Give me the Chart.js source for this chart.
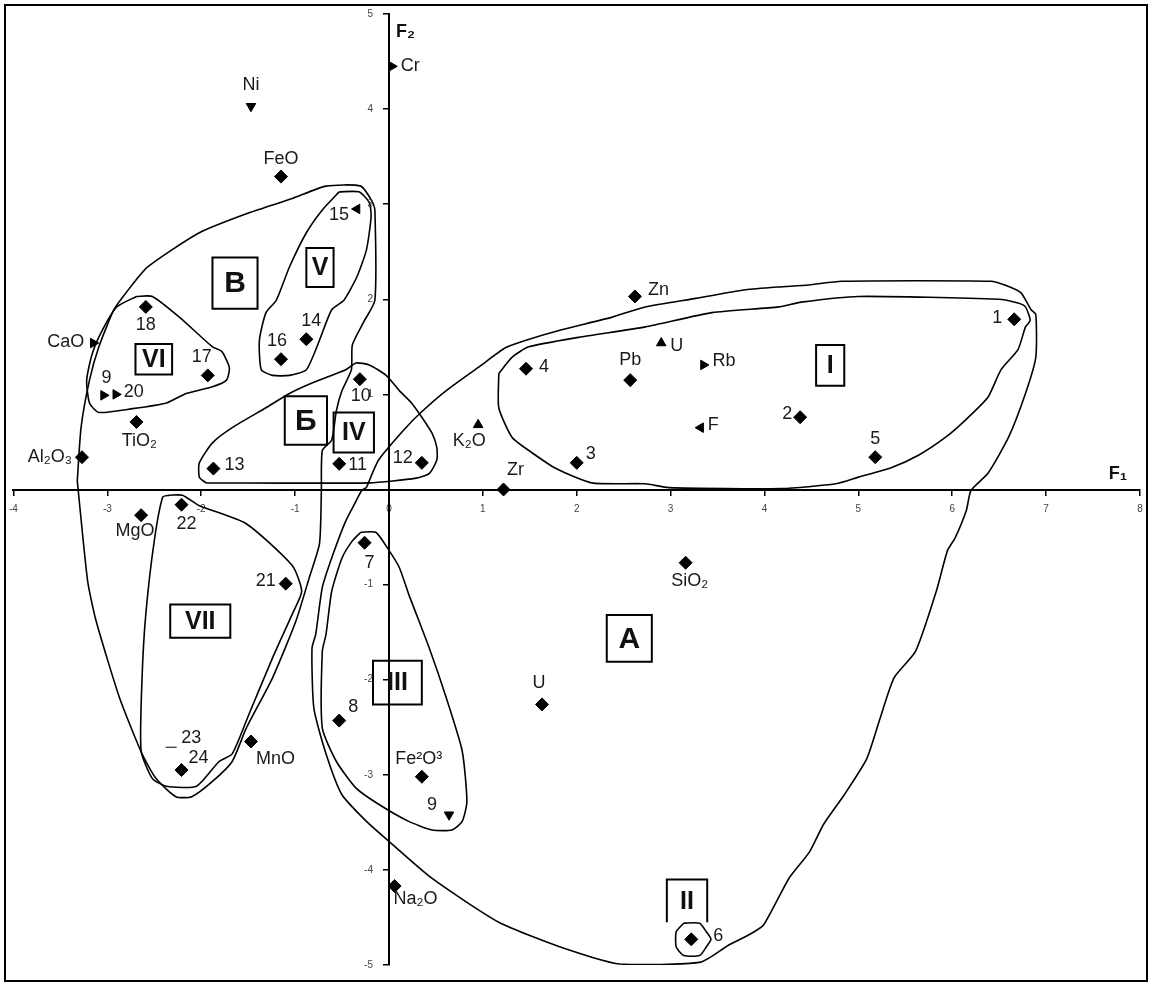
<!DOCTYPE html>
<html>
<head>
<meta charset="utf-8">
<script src="https://cdn.jsdelivr.net/npm/chart.js@4.4.0/dist/chart.umd.min.js"></script>
<style>
  html, body { margin: 0; padding: 0; background: #fff; }
</style>
</head>
<body>
<canvas id="myScatterChart" width="1152" height="986"></canvas>
<script>
// numbered samples
const sampleNames = ['1','2','3','4','5','6','7','8','9','10','11','12','13','14','15','16','17','18','9','20','21','22','23','24']
const sampleF1 = [6.66, 4.38, 2.00, 1.46, 5.18, 3.22, -0.26, -0.53, 0.64, -0.31, -0.53, 0.35, -1.87, -0.88, -0.34, -1.15, -1.93, -2.59, -3.04, -2.91, -1.10, -2.21, -2.32, -2.21]
const sampleF2 = [1.79, 0.76, 0.28, 1.27, 0.34, -4.73, -0.56, -2.43, -3.42, 1.16, 0.27, 0.28, 0.22, 1.58, 2.95, 1.37, 1.20, 1.92, 0.99, 1.00, -0.99, -0.16, -2.71, -2.95]

// components (oxides, elements)
const compNames = ['Cr','Ni','FeO','CaO','TiO₂','Al₂O₃','K₂O','Zr','Zn','Pb','U','Rb','F','MgO','MnO','Fe²O³','Na₂O','U','SiO₂']
const compF1 = [0.03, -1.47, -1.15, -3.15, -2.69, -3.27, 0.95, 1.22, 2.62, 2.57, 2.90, 3.35, 3.32, -2.64, -1.47, 0.35, 0.06, 1.63, 3.16]
const compF2 = [4.45, 4.03, 3.29, 1.54, 0.71, 0.34, 0.68, 0.00, 2.03, 1.15, 1.54, 1.31, 0.65, -0.27, -2.65, -3.02, -4.17, -2.26, -0.77]

// axis ticks
const xTicks = [-4,-3,-2,-1,0,1,2,3,4,5,6,7,8]
const yTicks = [-5,-4,-3,-2,-1,0,1,2,3,4,5]

// group outlines (F1, F2)
const regionA = [[-0.24,0.02],[-0.11,0.31],[0.18,0.65],[0.34,0.81],[0.61,1.04],[0.96,1.29],[1.24,1.49],[1.46,1.57],[1.84,1.68],[2.37,1.81],[2.73,1.92],[3.27,2.01],[3.80,2.10],[4.15,2.13],[4.47,2.15],[4.82,2.19],[6.41,2.19],[6.56,2.15],[6.73,2.07],[6.84,1.89],[6.89,1.84],[6.89,1.39],[6.78,1.01],[6.60,0.55],[6.38,0.17],[6.20,-0.01],[6.15,-0.22],[6.03,-0.51],[5.95,-0.64],[5.83,-1.07],[5.61,-1.70],[5.38,-1.98],[5.23,-2.41],[5.09,-2.83],[4.85,-3.21],[4.63,-3.52],[4.48,-3.81],[4.26,-4.09],[3.99,-4.58],[3.84,-4.68],[3.62,-4.79],[3.32,-4.97],[2.46,-4.99],[1.88,-4.83],[1.17,-4.55],[0.46,-4.09],[0.00,-3.70],[-0.24,-3.49],[-0.50,-3.21],[-0.67,-2.78],[-0.80,-2.30],[-0.82,-1.67],[-0.78,-1.52],[-0.71,-1.03],[-0.61,-0.72],[-0.46,-0.33],[-0.35,-0.12],[-0.29,-0.01],[-0.24,0.02]]
const regionI = [[1.17,1.22],[1.17,0.86],[1.31,0.55],[1.49,0.41],[1.78,0.22],[2.16,0.07],[2.73,0.06],[2.98,0.02],[4.18,0.01],[4.76,0.06],[5.00,0.13],[5.35,0.23],[5.64,0.36],[5.93,0.55],[6.14,0.73],[6.38,0.97],[6.52,1.26],[6.70,1.47],[6.78,1.71],[6.83,1.78],[6.78,1.92],[6.70,1.96],[6.49,2.00],[5.00,2.03],[4.39,1.97],[4.15,1.92],[3.44,1.86],[2.73,1.71],[2.02,1.60],[1.49,1.50],[1.31,1.39],[1.17,1.22]]
const regionV_ = [[-3.32,0.09],[-3.28,0.65],[-3.19,1.15],[-3.09,1.50],[-2.93,1.89],[-2.80,2.07],[-2.57,2.34],[-2.02,2.70],[-1.49,2.91],[-1.03,3.06],[-0.67,3.19],[-0.30,3.19],[-0.18,3.03],[-0.15,2.94],[-0.15,1.99],[-0.27,1.76],[-0.39,1.52],[-0.40,1.26],[-0.50,1.04],[-0.56,0.83],[-0.61,0.52],[-0.71,0.41],[-0.72,-0.01],[-0.74,-0.57],[-0.85,-0.93],[-0.99,-1.38],[-1.24,-1.98],[-1.52,-2.51],[-1.67,-2.86],[-1.88,-3.07],[-2.10,-3.23],[-2.27,-3.23],[-2.48,-3.04],[-2.63,-2.78],[-2.87,-2.19],[-3.12,-1.38],[-3.21,-0.96],[-3.32,0.09]]
const regionV = [[-0.53,3.13],[-0.32,3.13],[-0.21,3.02],[-0.19,2.87],[-0.24,2.52],[-0.34,2.24],[-0.48,1.99],[-0.61,1.89],[-0.74,1.57],[-0.88,1.26],[-1.06,1.20],[-1.24,1.20],[-1.36,1.26],[-1.38,1.57],[-1.31,1.86],[-1.20,1.99],[-1.06,2.34],[-0.88,2.70],[-0.71,2.94],[-0.53,3.13]]
const regionVI = [[-2.69,2.03],[-2.52,2.03],[-2.23,1.81],[-1.88,1.50],[-1.78,1.45],[-1.70,1.28],[-1.73,1.15],[-1.88,1.08],[-2.16,1.01],[-2.37,0.91],[-2.73,0.85],[-3.09,0.81],[-3.19,0.91],[-3.22,1.15],[-3.16,1.43],[-3.05,1.68],[-2.90,1.92],[-2.69,2.03]]
const regionBe = [[-1.95,0.07],[-2.02,0.13],[-2.02,0.28],[-1.88,0.49],[-1.67,0.65],[-1.31,0.86],[-1.06,1.01],[-0.82,1.12],[-0.46,1.26],[-0.35,1.33],[-0.21,1.31],[-0.03,1.20],[0.11,1.04],[0.24,0.91],[0.35,0.76],[0.46,0.59],[0.51,0.44],[0.51,0.31],[0.43,0.17],[0.29,0.12],[-0.21,0.07],[-1.95,0.07]]
const regionVII = [[-2.34,-0.06],[-2.20,-0.06],[-2.02,-0.17],[-1.52,-0.36],[-1.03,-0.80],[-0.93,-1.07],[-1.03,-1.31],[-1.24,-1.77],[-1.49,-2.36],[-1.67,-2.78],[-1.81,-2.86],[-2.05,-3.12],[-2.37,-3.12],[-2.52,-3.04],[-2.64,-2.75],[-2.63,-1.98],[-2.59,-1.31],[-2.50,-0.54],[-2.41,-0.08],[-2.34,-0.06]]
const regionIII = [[-0.30,-0.45],[-0.14,-0.45],[0.00,-0.64],[0.11,-0.82],[0.21,-1.10],[0.43,-1.67],[0.61,-2.19],[0.78,-2.75],[0.83,-3.28],[0.78,-3.49],[0.67,-3.58],[0.46,-3.58],[0.21,-3.49],[-0.11,-3.31],[-0.35,-3.14],[-0.56,-2.86],[-0.71,-2.51],[-0.71,-1.70],[-0.67,-1.52],[-0.61,-1.07],[-0.50,-0.72],[-0.39,-0.54],[-0.30,-0.45]]
const ringII = [[3.14,-4.56],[3.31,-4.56],[3.38,-4.65],[3.43,-4.73],[3.38,-4.81],[3.31,-4.90],[3.14,-4.90],[3.06,-4.81],[3.06,-4.65],[3.14,-4.56]]

// boxed group labels: text, F1 left/right, F2 top/bottom
const boxes = [
  ['В', -1.88, -1.40, 2.44, 1.90],
  ['V', -0.88, -0.59, 2.54, 2.13],
  ['VI', -2.70, -2.31, 1.53, 1.21],
  ['Б', -1.11, -0.66, 0.98, 0.47],
  ['IV', -0.59, -0.16, 0.81, 0.39],
  ['I', 4.55, 4.85, 1.52, 1.09],
  ['III', -0.17, 0.35, -1.80, -2.26],
  ['A', 2.32, 2.80, -1.32, -1.81],
  ['VII', -2.33, -1.69, -1.21, -1.56],
  ['II', 2.96, 3.39, -4.10, -4.55]
]

// marker shapes and label placement (px offset from marker)
const sampleShape = ['d','d','d','d','d','d','d','d','td','d','d','d','d','d','tl','d','d','d','tr','tr','d','d','dash','d']
const compShape = ['tr','td','d','tr','d','d','tu','d','d','d','tu','tr','tl','d','d','d','d','d','d']
const sampleLabelPos = [[-12,-1,'right'],[-8,-3,'right'],[9,-9,'left'],[13,-2,'left'],[0,-18,'center'],[22,-3,'left'],[5,20,'center'],[9,-14,'left'],[-12,-10,'right'],[1,17,'center'],[9,1,'left'],[-9,-5,'right'],[11,-4,'left'],[5,-18,'center'],[-8,6,'right'],[-4,-18,'center'],[-6,-18,'center'],[0,18,'center'],[3,-17,'center'],[8,-2,'left'],[-10,-3,'right'],[5,19,'center'],[10,-9,'left'],[7,-12,'left']]
const compLabelPos = [[9,0,'left'],[0,-21,'center'],[0,-18,'center'],[-9,-1,'right'],[3,19,'center'],[-10,0,'right'],[-9,16,'center'],[12,-19,'center'],[13,-6,'left'],[0,-20,'center'],[9,3,'left'],[9,-4,'left'],[7,-3,'left'],[-6,16,'center'],[5,18,'left'],[-3,-18,'center'],[-1,13,'left'],[-3,-21,'center'],[4,18,'center']]

const FONT = '"Liberation Sans", Arial, sans-serif'

function toXY(list){ return list.map(p => ({x: p[0], y: p[1]})) }
function zipXY(xs, ys){ return xs.map((v, i) => ({x: v, y: ys[i]})) }

function shapeOf(code){
  if(code == 'd') return 'rectRot'
  if(code == 'dash') return 'line'
  return 'triangle'
}
function rotOf(code){
  if(code == 'td') return 180
  if(code == 'tl') return -90
  if(code == 'tr') return 90
  return 0
}

function outline(name, pts){
  return {
    label: name,
    data: toXY(pts),
    showLine: true,
    borderColor: '#000',
    borderWidth: 1.6,
    pointRadius: 0,
    tension: 0.2,
    fill: false
  }
}

function markers(name, xs, ys, shapes){
  return {
    label: name,
    data: zipXY(xs, ys),
    showLine: false,
    backgroundColor: '#000',
    borderColor: '#000',
    borderWidth: 1,
    pointStyle: c => shapeOf(shapes[c.dataIndex]),
    pointRotation: c => rotOf(shapes[c.dataIndex]),
    pointRadius: c => shapes[c.dataIndex] == 'd' ? 6.5 : 5.5
  }
}

const decorPlugin = {
  id: 'decor',
  afterDatasetsDraw(chart){
    const ctx = chart.ctx
    const sx = chart.scales.x, sy = chart.scales.y
    ctx.save()
    // F2 tick labels, left of the vertical axis
    ctx.fillStyle = '#444'
    ctx.font = '10px ' + FONT
    ctx.textAlign = 'right'
    ctx.textBaseline = 'middle'
    const ax = sx.getPixelForValue(0)
    sy.ticks.forEach(t => {
      if(t.value == 0) return
      ctx.fillText(String(t.value), ax - 16, sy.getPixelForValue(t.value))
    })
    // point labels
    ctx.fillStyle = '#1a1a1a'
    ctx.font = '18px ' + FONT
    const sets = [['samples', sampleNames, sampleLabelPos], ['components', compNames, compLabelPos]]
    sets.forEach(s => {
      const idx = chart.data.datasets.findIndex(d => d.label == s[0])
      const meta = chart.getDatasetMeta(idx)
      meta.data.forEach((el, i) => {
        const pos = s[2][i]
        ctx.textAlign = pos[2]
        ctx.fillText(s[1][i], el.x + pos[0], el.y + pos[1])
      })
    })
    // boxed group labels
    ctx.strokeStyle = '#000'
    ctx.lineWidth = 2
    boxes.forEach(b => {
      const x1 = sx.getPixelForValue(b[1]), x2 = sx.getPixelForValue(b[2])
      const y1 = sy.getPixelForValue(b[3]), y2 = sy.getPixelForValue(b[4])
      ctx.beginPath()
      if(b[0] == 'II'){
        ctx.moveTo(x1, y2); ctx.lineTo(x1, y1); ctx.lineTo(x2, y1); ctx.lineTo(x2, y2)
      } else {
        ctx.rect(x1, y1, x2 - x1, y2 - y1)
      }
      ctx.stroke()
      const big = (b[0] == 'A' || b[0] == 'В' || b[0] == 'Б')
      ctx.font = 'bold ' + (big ? 30 : 25) + 'px ' + FONT
      ctx.textAlign = 'center'
      ctx.fillStyle = '#111'
      ctx.fillText(b[0], (x1 + x2) / 2, (y1 + y2) / 2 + 1)
    })
    // axis names
    ctx.font = 'bold 18px ' + FONT
    ctx.textAlign = 'left'
    ctx.fillText('F₂', sx.getPixelForValue(0) + 7, sy.getPixelForValue(5) + 18)
    ctx.textAlign = 'center'
    ctx.fillText('F₁', sx.getPixelForValue(8) - 22, sy.getPixelForValue(0) - 15)
    // outer frame
    ctx.lineWidth = 2
    ctx.strokeRect(5, 5, chart.width - 10, chart.height - 10)
    ctx.restore()
  }
}

let ctx = document.getElementById('myScatterChart').getContext('2d')
let myScatterChart = new Chart(ctx, {
  type: 'scatter',
  data: {
    datasets: [
      outline('A', regionA),
      outline('I', regionI),
      outline('В', regionV_),
      outline('V', regionV),
      outline('VI', regionVI),
      outline('Б', regionBe),
      outline('VII', regionVII),
      outline('III', regionIII),
      outline('II', ringII),
      markers('samples', sampleF1, sampleF2, sampleShape),
      markers('components', compF1, compF2, compShape)
    ]
  },
  options: {
    responsive: false,
    animation: false,
    devicePixelRatio: 1,
    layout: { padding: { left: 13, right: 12, top: 14, bottom: 21 } },
    plugins: { legend: { display: false }, tooltip: { enabled: false } },
    scales: {
      x: {
        type: 'linear',
        min: -4, max: 8,
        position: { y: 0 },
        afterBuildTicks: s => { s.ticks = xTicks.map(v => ({value: v})) },
        ticks: { color: '#444', font: { size: 10, family: FONT }, padding: 9 },
        grid: { drawOnChartArea: false, drawTicks: true, tickLength: 5, color: '#000', lineWidth: 1.5 },
        border: { display: true, color: '#000', width: 2 }
      },
      y: {
        type: 'linear',
        min: -5, max: 5,
        position: { x: 0 },
        afterBuildTicks: s => { s.ticks = yTicks.map(v => ({value: v})) },
        ticks: { display: false },
        grid: { drawOnChartArea: false, drawTicks: true, tickLength: 5, color: '#000', lineWidth: 1.5 },
        border: { display: true, color: '#000', width: 2 }
      }
    }
  },
  plugins: [decorPlugin]
})
</script>
</body>
</html>
